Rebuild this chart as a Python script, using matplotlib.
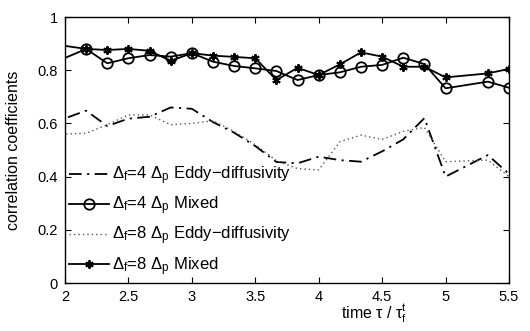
import matplotlib
matplotlib.use("Agg")
import matplotlib.pyplot as plt
import numpy as np

plt.rcParams['font.family'] = ['Liberation Sans', 'DejaVu Sans']
plt.rcParams['mathtext.default'] = 'regular'

# sample times (first point lies just left of the plotted window)
time = [1.8333, 2.1667, 2.3333, 2.5, 2.6667, 2.8333, 3.0, 3.1667, 3.3333,
        3.5, 3.6667, 3.8333, 4.0, 4.1667, 4.3333, 4.5, 4.6667, 4.8333,
        5.0, 5.3333, 5.5]

eddy4 = [0.59, 0.648, 0.590, 0.618, 0.625, 0.660, 0.655, 0.605, 0.565,
         0.515, 0.455, 0.450, 0.475, 0.462, 0.456, 0.495, 0.540, 0.620,
         0.400, 0.481, 0.410]
mixed4 = [0.812, 0.880, 0.826, 0.845, 0.857, 0.851, 0.864, 0.832, 0.816,
          0.807, 0.797, 0.763, 0.782, 0.792, 0.813, 0.820, 0.847, 0.823,
          0.732, 0.757, 0.734]
eddy8 = [0.557, 0.563, 0.595, 0.632, 0.632, 0.595, 0.600, 0.610, 0.570,
         0.520, 0.460, 0.430, 0.425, 0.531, 0.556, 0.540, 0.570, 0.585,
         0.456, 0.462, 0.400]
mixed8 = [0.903, 0.880, 0.876, 0.880, 0.873, 0.835, 0.864, 0.855, 0.850,
          0.845, 0.763, 0.809, 0.782, 0.822, 0.867, 0.851, 0.813, 0.813,
          0.773, 0.788, 0.805]

labels = [r'$\Delta_f$=4 $\Delta_p$ Eddy$-$diffusivity',
          r'$\Delta_f$=4 $\Delta_p$ Mixed',
          r'$\Delta_f$=8 $\Delta_p$ Eddy$-$diffusivity',
          r'$\Delta_f$=8 $\Delta_p$ Mixed']

xticks = [2, 2.5, 3, 3.5, 4, 4.5, 5, 5.5]
yticks = [0, 0.2, 0.4, 0.6, 0.8, 1]

fig = plt.figure(figsize=(5.30, 3.31), dpi=100)
ax = fig.add_axes([0.1226, 0.145, 0.8378, 0.8036])

marked = list(range(1, len(time)))
ax.plot(time, eddy4, color='black', lw=1.3, linestyle=(0, (7, 3, 1.2, 3)),
        label=labels[0])
ax.plot(time, mixed4, color='black', lw=1.3, marker='o', ms=7.5,
        markerfacecolor='none', markeredgewidth=1.3, label=labels[1],
        markevery=marked)
ax.plot(time, eddy8, color='#555555', lw=1.0, linestyle=(0, (1, 2.2)),
        label=labels[2])
ax.plot(time, mixed8, color='black', lw=1.3, marker=(6, 2, 0), ms=6,
        markeredgewidth=1.4, label=labels[3], markevery=marked)

ax.set_xlim(2, 5.5)
ax.set_ylim(0, 1)
ax.set_xticks(xticks)
ax.set_xticklabels(['2', '2.5', '3', '3.5', '4', '4.5', '5', '5.5'])
ax.set_yticks(yticks)
ax.set_yticklabels(['0', '0.2', '0.4', '0.6', '0.8', '1'])
ax.tick_params(direction='in', length=4, width=0.8, labelsize=10.5,
               top=True, right=True, pad=5)
for sp in ax.spines.values():
    sp.set_linewidth(1.0)

ax.set_ylabel('correlation coefficients', fontsize=11.5)
ax.yaxis.set_label_coords(-0.1, 0.5)
ax.set_xlabel(r'time $\tau$ / $\tau_f^t$', fontsize=11.5)
ax.xaxis.set_label_coords(0.696, -0.075)

leg = ax.legend(loc='upper left', bbox_to_anchor=(-0.005, 0.47), frameon=False,
                fontsize=12, handlelength=2.4, handletextpad=0.15,
                labelspacing=0.45, borderaxespad=0)

fig.savefig('out.png', dpi=100)
